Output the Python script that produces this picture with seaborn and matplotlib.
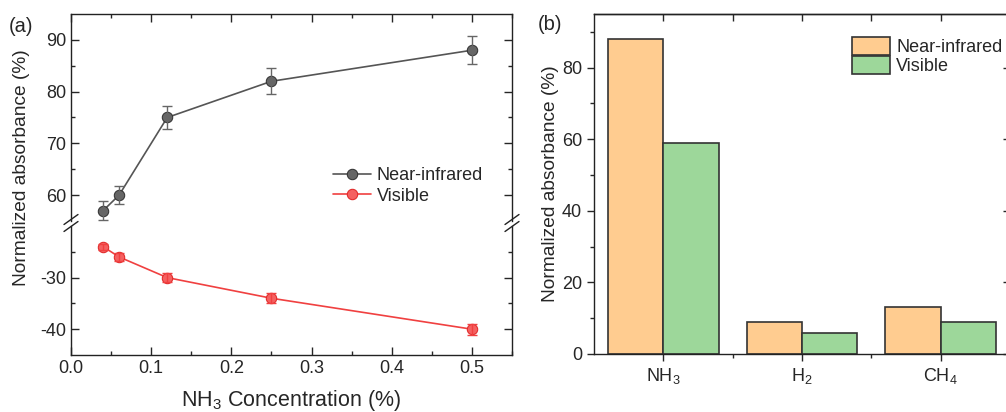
import numpy as np
import pandas as pd
import matplotlib
matplotlib.use("Agg")
import matplotlib.pyplot as plt
from matplotlib.ticker import MultipleLocator, FixedLocator
import seaborn as sns

# ---- data ----
conc = [0.04, 0.06, 0.12, 0.25, 0.5]
nir_abs = [57, 60, 75, 82, 88]
nir_err = [1.8, 1.8, 2.2, 2.5, 2.7]
vis_abs = [-24, -26, -30, -34, -40]
vis_err = [0.6, 0.7, 0.9, 1.0, 1.1]

gases = ['NH$_3$', 'H$_2$', 'CH$_4$']
nir_gas = [88, 9, 13]
vis_gas = [59, 6, 9]
bands = ['Near-infrared', 'Visible']

# ---- style ----
sns.set_theme(style="ticks")
plt.rcParams['font.family'] = ['Liberation Sans', 'DejaVu Sans']
plt.rcParams['mathtext.fontset'] = 'custom'
plt.rcParams['mathtext.rm'] = 'Liberation Sans'
plt.rcParams['mathtext.it'] = 'Liberation Sans:italic'
plt.rcParams['axes.linewidth'] = 1.0
plt.rcParams['axes.edgecolor'] = '#222222'
plt.rcParams['axes.unicode_minus'] = False

tick_fs = 13
xlabel_fs = 15.5
ylabel_fs = 13.8
nir_col = '#555555'
vis_col = '#F04040'
bar_cols = ['#FFCC90', '#9DD79A']

W, H = 1006, 412
fig = plt.figure(figsize=(W / 100, H / 100), dpi=100)

def frac(x0, y0, x1, y1):
    return [x0 / W, 1 - y1 / H, (x1 - x0) / W, (y1 - y0) / H]

# ==========================================
# --- Panel (a): broken y axis ---
# ==========================================
ax_top = fig.add_axes(frac(71, 14, 512, 221))
ax_bot = fig.add_axes(frac(71, 226, 512, 355))

sns.lineplot(x=conc, y=nir_abs, ax=ax_top, color=nir_col, marker='o', markersize=7.5,
             markeredgecolor='#333333', markerfacecolor='#666666', linewidth=1.2,
             label='Near-infrared', legend=False)
ax_top.errorbar(conc, nir_abs, yerr=nir_err, fmt='none', ecolor='#666666',
                capsize=3.5, elinewidth=1.0, capthick=1.0)

sns.lineplot(x=conc, y=vis_abs, ax=ax_bot, color=vis_col, marker='o', markersize=7.5,
             markeredgecolor='#E02828', markerfacecolor='#F56060', linewidth=1.2,
             label='Visible', legend=False)
ax_bot.errorbar(conc, vis_abs, yerr=vis_err, fmt='none', ecolor=vis_col,
                capsize=3.5, elinewidth=1.0, capthick=1.0)

for ax in (ax_top, ax_bot):
    ax.set_xlim(0, 0.55)
    ax.xaxis.set_major_locator(MultipleLocator(0.1))
    ax.xaxis.set_minor_locator(MultipleLocator(0.05))
    ax.tick_params(which='both', direction='in', labelsize=tick_fs, right=True)
    ax.tick_params(which='major', length=6, width=1.0)
    ax.tick_params(which='minor', length=3, width=1.0)

ax_top.set_ylim(55, 95)
ax_top.yaxis.set_major_locator(FixedLocator([60, 70, 80, 90]))
ax_top.yaxis.set_minor_locator(FixedLocator([65, 75, 85]))
ax_bot.set_ylim(-45, -20)
ax_bot.yaxis.set_major_locator(FixedLocator([-40, -30]))
ax_bot.yaxis.set_minor_locator(FixedLocator([-35, -25]))
ax_top.spines['bottom'].set_visible(False)
ax_bot.spines['top'].set_visible(False)
ax_top.tick_params(axis='x', which='both', bottom=False, labelbottom=False, top=True)
ax_bot.tick_params(axis='x', which='both', top=False)
ax_bot.set_xticks([0.0, 0.1, 0.2, 0.3, 0.4, 0.5])
ax_bot.set_xticklabels(['0.0', '0.1', '0.2', '0.3', '0.4', '0.5'])
ax_bot.set_xlabel('NH$_3$ Concentration (%)', fontsize=xlabel_fs, labelpad=8)
ax_top.set_ylabel('')
ax_bot.set_ylabel('')

# break marks
for xs in (71, 512):
    for yc in (219.5, 226.5):
        fig.add_artist(plt.Line2D([(xs - 7) / W, (xs + 7) / W],
                                  [1 - (yc + 5) / H, 1 - (yc - 5) / H],
                                  color='#222222', lw=1.0))

fig.text(22 / W, 1 - 168 / H, 'Normalized absorbance (%)', rotation=90,
         fontsize=ylabel_fs, ha='center', va='center')
fig.text(9 / W, 1 - 27 / H, '(a)', fontsize=14.5, ha='left', va='center')

handles = ax_top.get_lines()[:1] + ax_bot.get_lines()[:1]
ax_top.legend(handles, bands, loc='center left', bbox_to_anchor=(0.595, 0.17),
              frameon=False, fontsize=tick_fs, borderpad=0, borderaxespad=0,
              handlelength=2.1, handletextpad=0.3, labelspacing=0.2)

# ==========================================
# --- Panel (b): bars ---
# ==========================================
ax_b = fig.add_axes(frac(594, 14, 1010, 354))
df = pd.DataFrame({
    'gas': gases * 2,
    'value': nir_gas + vis_gas,
    'band': [bands[0]] * 3 + [bands[1]] * 3,
})
sns.barplot(data=df, x='gas', y='value', hue='band', palette=bar_cols,
            edgecolor='#333333', linewidth=1.2, width=0.8, ax=ax_b, saturation=1)

ax_b.set_xlim(-0.5, 2.5)
ax_b.set_ylim(0, 95)
ax_b.yaxis.set_major_locator(MultipleLocator(20))
ax_b.yaxis.set_minor_locator(MultipleLocator(10))
ax_b.xaxis.set_minor_locator(FixedLocator([0.5, 1.5]))
ax_b.tick_params(which='both', direction='out', labelsize=tick_fs, top=False, right=False)
ax_b.tick_params(which='major', length=5, width=1.0)
ax_b.tick_params(which='minor', length=3, width=1.0)
ax_b.set_xlabel('')
ax_b.set_ylabel('Normalized absorbance (%)', fontsize=ylabel_fs, labelpad=2)

sec_top = ax_b.secondary_xaxis('top')
sec_top.set_xticks([0, 0.5, 1, 1.5, 2])
sec_top.tick_params(direction='in', length=5, width=1.0, labeltop=False)
sec_right = ax_b.secondary_yaxis('right')
sec_right.yaxis.set_major_locator(MultipleLocator(20))
sec_right.yaxis.set_minor_locator(MultipleLocator(10))
sec_right.tick_params(which='both', direction='in', labelright=False)
sec_right.tick_params(which='major', length=5, width=1.0)
sec_right.tick_params(which='minor', length=3, width=1.0)

fig.text(538 / W, 1 - 25 / H, '(b)', fontsize=14.5, ha='left', va='center')

ax_b.legend(loc='upper left', bbox_to_anchor=(0.62, 0.932), frameon=False,
            fontsize=tick_fs, borderpad=0, borderaxespad=0, handlelength=2.1,
            handleheight=1.15, handletextpad=0.35, labelspacing=0.0, title=None)

fig.savefig('out.png', dpi=100)
